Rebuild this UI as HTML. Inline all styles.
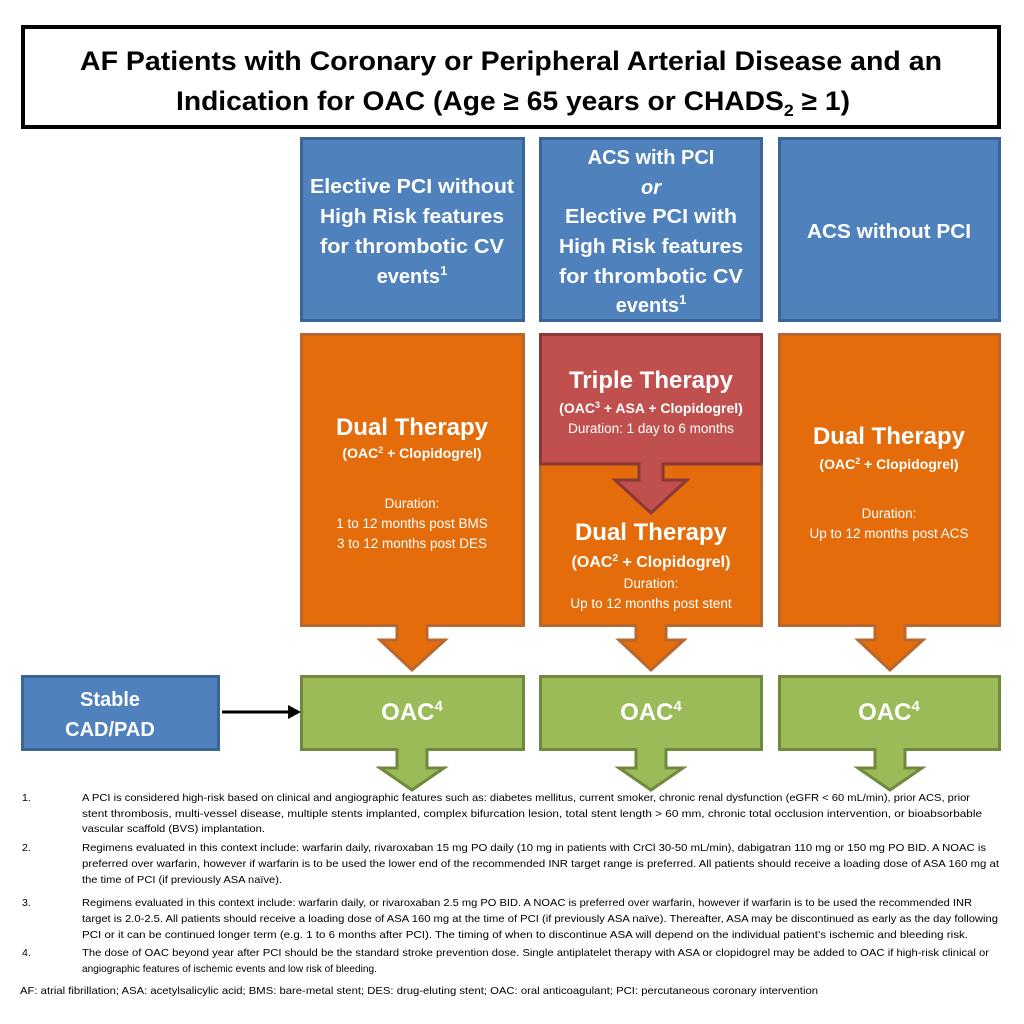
<!DOCTYPE html>
<html><head><meta charset="utf-8"><style>
html,body{margin:0;padding:0;background:#fff;}
svg{display:block;}
text{font-family:"Liberation Sans",sans-serif;}
.w{fill:#fff;font-weight:bold;text-anchor:middle;}
.wn{fill:#fff;text-anchor:middle;}
.fn{font-size:10.5px;fill:#000;}
</style></head><body>
<svg width="1024" height="1024" viewBox="0 0 1024 1024" xmlns="http://www.w3.org/2000/svg">
<!-- title -->
<rect x="23" y="27" width="976" height="100" fill="#fff" stroke="#000" stroke-width="4"/>
<text x="511" y="70" text-anchor="middle" font-size="27" font-weight="bold" textLength="862" lengthAdjust="spacingAndGlyphs">AF Patients with Coronary or Peripheral Arterial Disease and an</text>
<text x="513" y="110" text-anchor="middle" font-size="27" font-weight="bold" textLength="674" lengthAdjust="spacingAndGlyphs">Indication for OAC (Age ≥ 65 years or CHADS<tspan font-size="17" dy="6">2</tspan><tspan dy="-6"> ≥ 1)</tspan></text>

<!-- blue boxes -->
<g fill="#4f81bd" stroke="#3b6596" stroke-width="3">
<rect x="301.5" y="138.5" width="222" height="182"/>
<rect x="540.5" y="138.5" width="221" height="182"/>
<rect x="779.5" y="138.5" width="220" height="182"/>
<rect x="22.5" y="676.5" width="196" height="73"/>
</g>
<g class="w" font-size="20">
<text x="412" y="193" textLength="204" lengthAdjust="spacingAndGlyphs">Elective PCI without</text>
<text x="412" y="223" textLength="184" lengthAdjust="spacingAndGlyphs">High Risk features</text>
<text x="412" y="253" textLength="184" lengthAdjust="spacingAndGlyphs">for thrombotic CV</text>
<text x="412" y="283">events<tspan font-size="13" dy="-8">1</tspan></text>
<text x="651" y="164">ACS with PCI</text>
<text x="651" y="194" font-style="italic">or</text>
<text x="651" y="223" textLength="172" lengthAdjust="spacingAndGlyphs">Elective PCI with</text>
<text x="651" y="253" textLength="184" lengthAdjust="spacingAndGlyphs">High Risk features</text>
<text x="651" y="283" textLength="184" lengthAdjust="spacingAndGlyphs">for thrombotic CV</text>
<text x="651" y="312">events<tspan font-size="13" dy="-8">1</tspan></text>
<text x="889" y="238" textLength="164" lengthAdjust="spacingAndGlyphs">ACS without PCI</text>
<text x="110" y="706">Stable</text>
<text x="110" y="736">CAD/PAD</text>
</g>

<!-- orange boxes + arrows -->
<g fill="#e46c0a" stroke="#b8672e" stroke-width="3">
<path d="M301.5 334.5 H523.5 V625.5 H427 V640 H445 L412 670 L380 640 H397 V625.5 H301.5 Z"/>
<path d="M540.5 334.5 H761.5 V625.5 H666 V640 H684 L651 670 L619 640 H636 V625.5 H540.5 Z"/>
<path d="M779.5 334.5 H999.5 V625.5 H905 V640 H923 L890 670 L858 640 H875 V625.5 H779.5 Z"/>
</g>
<!-- triple therapy -->
<path d="M540.5 334.5 H761.5 V464 H663 V480 H687 L651 513 L615 480 H639 V464 H540.5 Z" fill="#c0504d" stroke="#8c3836" stroke-width="3"/>

<!-- green boxes -->
<g fill="#9bbb59" stroke="#71893f" stroke-width="3">
<path d="M301.5 676.5 H523.5 V749.5 H427 V768 H444 L412 790 L380 768 H397 V749.5 H301.5 Z"/>
<path d="M540.5 676.5 H761.5 V749.5 H666 V768 H683 L651 790 L619 768 H636 V749.5 H540.5 Z"/>
<path d="M779.5 676.5 H999.5 V749.5 H905 V768 H922 L890 790 L858 768 H875 V749.5 H779.5 Z"/>
</g>

<!-- connector -->
<line x1="222" y1="712" x2="290" y2="712" stroke="#000" stroke-width="3"/>
<path d="M288 705 L301 712 L288 719 Z" fill="#000"/>

<!-- orange texts -->
<g class="w">
<text x="412" y="435" font-size="24">Dual Therapy</text>
<text x="412" y="458" font-size="14">(OAC<tspan font-size="9" dy="-5">2</tspan><tspan dy="5"> + Clopidogrel)</tspan></text>
<text x="651" y="388" font-size="24">Triple Therapy</text>
<text x="651" y="413" font-size="14">(OAC<tspan font-size="9" dy="-5">3</tspan><tspan dy="5"> + ASA + Clopidogrel)</tspan></text>
<text x="651" y="540" font-size="24">Dual Therapy</text>
<text x="651" y="567" font-size="16">(OAC<tspan font-size="10" dy="-6">2</tspan><tspan dy="6"> + Clopidogrel)</tspan></text>
<text x="889" y="444" font-size="24">Dual Therapy</text>
<text x="889" y="469" font-size="14">(OAC<tspan font-size="9" dy="-5">2</tspan><tspan dy="5"> + Clopidogrel)</tspan></text>
<text x="412" y="720" font-size="24">OAC<tspan font-size="15" dy="-9">4</tspan></text>
<text x="651" y="720" font-size="24">OAC<tspan font-size="15" dy="-9">4</tspan></text>
<text x="889" y="720" font-size="24">OAC<tspan font-size="15" dy="-9">4</tspan></text>
</g>
<g class="wn" font-size="13.5">
<text x="412" y="508">Duration:</text>
<text x="412" y="528">1 to 12 months post BMS</text>
<text x="412" y="548">3 to 12 months post DES</text>
<text x="651" y="433">Duration: 1 day to 6 months</text>
<text x="651" y="588">Duration:</text>
<text x="651" y="608">Up to 12 months post stent</text>
<text x="889" y="518">Duration:</text>
<text x="889" y="538">Up to 12 months post ACS</text>
</g>

<!-- footnotes -->
<g class="fn">
<text x="22" y="801">1.</text>
<text x="82" y="801" textLength="888" lengthAdjust="spacingAndGlyphs">A PCI is considered high-risk based on clinical and angiographic features such as: diabetes mellitus, current smoker, chronic renal dysfunction (eGFR &lt; 60 mL/min), prior ACS, prior</text>
<text x="82" y="817" textLength="900" lengthAdjust="spacingAndGlyphs">stent thrombosis, multi-vessel disease, multiple stents implanted, complex bifurcation lesion, total stent length &gt; 60 mm, chronic total occlusion intervention, or bioabsorbable</text>
<text x="82" y="832" textLength="183" lengthAdjust="spacingAndGlyphs">vascular scaffold (BVS) implantation.</text>
<text x="22" y="851">2.</text>
<text x="82" y="851" textLength="904" lengthAdjust="spacingAndGlyphs">Regimens evaluated in this context include: warfarin daily, rivaroxaban 15 mg PO daily (10 mg in patients with CrCl 30-50 mL/min), dabigatran 110 mg or 150 mg PO BID. A NOAC is</text>
<text x="82" y="867" textLength="917" lengthAdjust="spacingAndGlyphs">preferred over warfarin, however if warfarin is to be used the lower end of the recommended INR target range is preferred. All patients should receive a loading dose of ASA 160 mg at</text>
<text x="82" y="883" textLength="200" lengthAdjust="spacingAndGlyphs">the time of PCI (if previously ASA naïve).</text>
<text x="22" y="906">3.</text>
<text x="82" y="906" textLength="890" lengthAdjust="spacingAndGlyphs">Regimens evaluated in this context include: warfarin daily, or rivaroxaban 2.5 mg PO BID. A NOAC is preferred over warfarin, however if warfarin is to be used the recommended INR</text>
<text x="82" y="922" textLength="916" lengthAdjust="spacingAndGlyphs">target is 2.0-2.5. All patients should receive a loading dose of ASA 160 mg at the time of PCI (if previously ASA naïve). Thereafter, ASA may be discontinued as early as the day following</text>
<text x="82" y="938" textLength="886" lengthAdjust="spacingAndGlyphs">PCI or it can be continued longer term (e.g. 1 to 6 months after PCI). The timing of when to discontinue ASA will depend on the individual patient’s ischemic and bleeding risk.</text>
<text x="22" y="956">4.</text>
<text x="82" y="956" textLength="907" lengthAdjust="spacingAndGlyphs">The dose of OAC beyond year after PCI should be the standard stroke prevention dose. Single antiplatelet therapy with ASA or clopidogrel may be added to OAC if high-risk clinical or</text>
<text x="82" y="972" textLength="295" lengthAdjust="spacingAndGlyphs">angiographic features of ischemic events and low risk of bleeding.</text>
<text x="20" y="994" textLength="798" lengthAdjust="spacingAndGlyphs">AF: atrial fibrillation; ASA: acetylsalicylic acid; BMS: bare-metal stent; DES: drug-eluting stent; OAC: oral anticoagulant; PCI: percutaneous coronary intervention</text>
</g>
</svg>
</body></html>
